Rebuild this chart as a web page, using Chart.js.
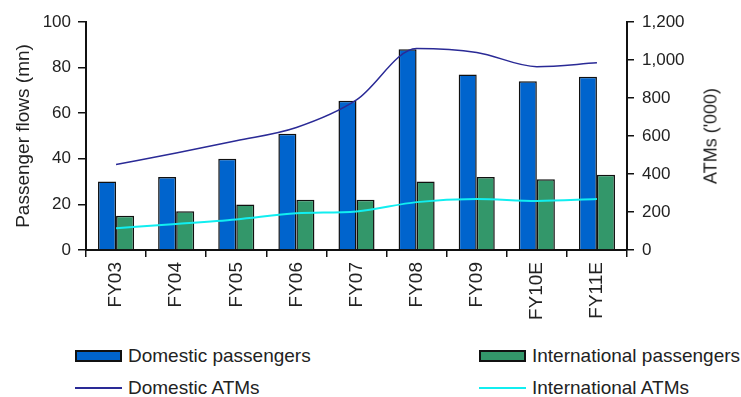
<!DOCTYPE html>
<html>
<head>
<meta charset="utf-8">
<script src="https://cdn.jsdelivr.net/npm/chart.js@4"></script>
<style>
  html, body { margin: 0; padding: 0; background: #fff; }
  #wrap { position: relative; width: 741px; height: 397px; font-family: "Liberation Sans", Arial, sans-serif; }
  #chart { position: absolute; left: 0; top: 0; }
  .lg { position: absolute; display: flex; align-items: center; font-size: 19px; color: #222; white-space: nowrap; }
  .lg .sw { width: 43px; height: 8px; border: 2px solid #111; margin-right: 6px; }
  .lg .ln { width: 47px; height: 2px; margin-right: 6px; }
  #rtitle { position: absolute; left: 711px; top: 136px; transform: translate(-50%, -50%) rotate(-90deg);
            font-size: 18px; color: #222; white-space: nowrap; }
</style>
</head>
<body>
<div id="wrap">
  <canvas id="chart" width="741" height="330"></canvas>
  <div id="rtitle">ATMs ('000)</div>
  <div id="legend"></div>
</div>
<script>
// Passenger flows and air traffic movements by fiscal year
const years = ['FY03', 'FY04', 'FY05', 'FY06', 'FY07', 'FY08', 'FY09', 'FY10E', 'FY11E'];
const domesticPax = [30, 32, 40, 51, 65.5, 88, 77, 74, 76];       // mn
const internationalPax = [15, 17, 20, 22, 22, 30, 32, 31, 33];    // mn
const domesticATMs = [450, 510, 575, 645, 790, 1060, 1040, 965, 985];  // '000
const internationalATMs = [115, 137, 161, 193, 203, 252, 268, 258, 268]; // '000

const textColor = '#222';
const axisColor = '#111';
const font = 'Liberation Sans';

const ctx = document.getElementById('chart');
const chart = new Chart(ctx, {
  data: {
    labels: years,
    datasets: [
      {
        type: 'bar', label: 'Domestic passengers', data: domesticPax, yAxisID: 'y',
        backgroundColor: '#0064cd', borderColor: '#111', borderWidth: 1.5, order: 2,
        categoryPercentage: 0.6, barPercentage: 1.0
      },
      {
        type: 'bar', label: 'International passengers', data: internationalPax, yAxisID: 'y',
        backgroundColor: '#33976a', borderColor: '#111', borderWidth: 1.5, order: 2,
        categoryPercentage: 0.6, barPercentage: 1.0
      },
      {
        type: 'line', label: 'Domestic ATMs', data: domesticATMs, yAxisID: 'y2',
        borderColor: '#2a2a96', borderWidth: 1.5, pointRadius: 0, cubicInterpolationMode: 'monotone', order: 0
      },
      {
        type: 'line', label: 'International ATMs', data: internationalATMs, yAxisID: 'y2',
        borderColor: '#11eef0', borderWidth: 2, pointRadius: 0, cubicInterpolationMode: 'monotone', order: 0
      }
    ]
  },
  options: {
    responsive: false,
    animation: false,
    layout: { padding: { top: 22 } },
    plugins: { legend: { display: false }, tooltip: { enabled: false } },
    scales: {
      x: {
        offset: true,
        grid: { offset: true, drawOnChartArea: false, drawTicks: true, tickLength: 7, color: axisColor, lineWidth: 1.5 },
        border: { color: axisColor, width: 2 },
        ticks: { color: textColor, font: { family: font, size: 19 }, minRotation: 90, maxRotation: 90, padding: 5 },
        afterFit: s => { s.height = 80; }
      },
      y: {
        position: 'left', min: 0, max: 100,
        grid: { drawOnChartArea: false, tickLength: 8, color: axisColor, lineWidth: 1.5 },
        border: { color: axisColor, width: 2 },
        ticks: { stepSize: 20, color: textColor, font: { family: font, size: 17 }, padding: 7 },
        title: { display: true, text: 'Passenger flows (mn)', color: textColor, font: { family: font, size: 19 }, padding: { top: 12 } },
        afterFit: s => { s.width = 86; }
      },
      y2: {
        position: 'right', min: 0, max: 1200,
        grid: { drawOnChartArea: false, tickLength: 7, color: axisColor, lineWidth: 1.5 },
        border: { color: axisColor, width: 2 },
        ticks: { stepSize: 200, color: textColor, font: { family: font, size: 17 }, padding: 8,
                 callback: v => v.toLocaleString('en-US') },
        afterFit: s => { s.width = 114; }
      }
    }
  }
});

// Two-column legend under the chart, built from the datasets
const legendPos = [
  { left: 75, top: 345 }, { left: 479, top: 345 },
  { left: 75, top: 377 }, { left: 479, top: 377 }
];
const legendEl = document.getElementById('legend');
chart.data.datasets.forEach((ds, i) => {
  const item = document.createElement('div');
  item.className = 'lg';
  item.style.left = legendPos[i].left + 'px';
  item.style.top = legendPos[i].top + 'px';
  const mark = document.createElement('span');
  if (ds.type === 'bar') {
    mark.className = 'sw';
    mark.style.background = ds.backgroundColor;
  } else {
    mark.className = 'ln';
    mark.style.background = ds.borderColor;
  }
  item.appendChild(mark);
  item.appendChild(document.createTextNode(ds.label));
  legendEl.appendChild(item);
});
</script>
</body>
</html>
